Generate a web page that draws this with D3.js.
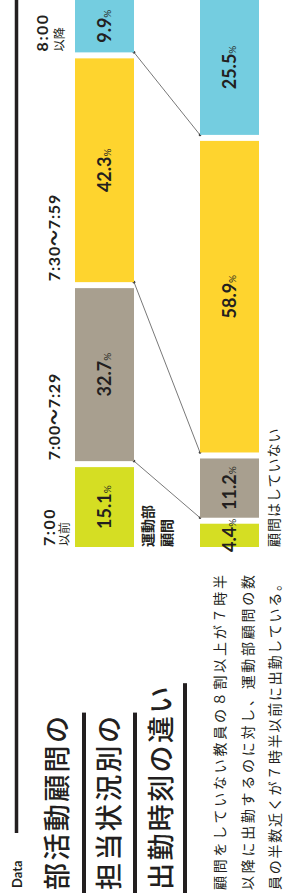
<!DOCTYPE html>
<html>
<head>
<meta charset="utf-8">
<script src="https://cdn.jsdelivr.net/npm/d3@7"></script>
<style>
  html, body { margin: 0; padding: 0; background: #fff; }
  svg { display: block; }
  text { font-family: Lato, "Noto Sans CJK JP", sans-serif; fill: #231f20; }
</style>
</head>
<body>
<svg id="chart" width="306" height="893"></svg>
<script>
// data
const groups = ['運動部顧問', '顧問はしていない'];
const groupLabels = [['運動部', '顧問'], ['顧問はしていない']];
const categories = ['7:00以前', '7:00〜7:29', '7:30〜7:59', '8:00以降'];
const tickMain = ['7:00', '7:00〜7:29', '7:30〜7:59', '8:00'];
const tickSub = ['以前', '', '', '以降'];
const advisorValues = [15.1, 32.7, 42.3, 9.9];
const nonAdvisorValues = [4.4, 11.2, 58.9, 25.5];
const titleLines = ['部活動顧問の', '担当状況別の', '出勤時刻の違い'];
const bodyLines = [
  '顧問をしていない教員の８割以上が７時半',
  '以降に出勤するのに対し、運動部顧問の数',
  '員の半数近くが７時半以前に出勤している。'
];

const colors = ['#d5de23', '#a89f8f', '#fed42e', '#74cde0'];

// whole graphic is laid out landscape, then turned a quarter left
const W = 893;
const svg = d3.select('#chart');
const g = svg.append('g').attr('transform', 'translate(0,' + W + ') rotate(-90)');

// header
g.append('text')
  .attr('x', 5).attr('y', 22)
  .style('font-size', '13px').style('font-weight', 700)
  .text('Data');
g.append('line')
  .attr('x1', 60).attr('x2', W)
  .attr('y1', 16.5).attr('y2', 16.5)
  .attr('stroke', '#231f20').attr('stroke-width', 3.5);

// title
const titleY = [67, 119, 171];
const ruleY = [84, 135, 185];
titleLines.forEach((t, i) => {
  const tx = g.append('text')
    .attr('x', 3).attr('y', titleY[i])
    .style('font-size', '27px').style('font-weight', 500)
    .style('letter-spacing', '2.4px')
    .text(t);
  const len = tx.node().getComputedTextLength();
  g.append('line')
    .attr('x1', 0).attr('x2', len + 4)
    .attr('y1', ruleY[i]).attr('y2', ruleY[i])
    .attr('stroke', '#231f20').attr('stroke-width', 4);
});

// body text
const bodyY = [225, 253, 280];
const bodyLen = [315, 315, 313];
bodyLines.forEach((t, i) => {
  g.append('text')
    .attr('x', 3).attr('y', bodyY[i])
    .attr('textLength', bodyLen[i]).attr('lengthAdjust', 'spacing')
    .style('font-size', '14px')
    .text(t);
});

// scales
const x = d3.scaleLinear().domain([0, 100]).range([346, 875]);
const gap = 6;
const y = d3.scaleBand().domain(groups).range([75, 259]).paddingInner(0.528);

const rows = groups.map((grp, gi) => {
  const vals = gi === 0 ? advisorValues : nonAdvisorValues;
  let cum = 0;
  return vals.map((v, i) => {
    const s = cum;
    cum += v;
    return { group: grp, cat: categories[i], v: v, i: i,
             x0: x(s) + i * gap, x1: x(cum) + i * gap };
  });
});

// connectors between the two bars
const conn = g.append('g');
for (let i = 1; i < categories.length; i++) {
  const a = rows[0][i], b = rows[1][i];
  const ya = y(groups[0]) + y.bandwidth(), yb = y(groups[1]);
  conn.append('line')
    .attr('x1', a.x0).attr('y1', ya).attr('x2', b.x0).attr('y2', yb)
    .attr('stroke', '#555').attr('stroke-width', 0.8);
  conn.selectAll(null).data([[a.x0, ya], [b.x0, yb]]).enter()
    .append('circle')
    .attr('cx', d => d[0]).attr('cy', d => d[1]).attr('r', 1.3)
    .attr('fill', '#444');
}

// bars
const barG = g.selectAll('.bar').data(rows).enter()
  .append('g').attr('class', 'bar');

barG.selectAll('rect').data(d => d).enter()
  .append('rect')
  .attr('x', d => d.x0)
  .attr('y', d => y(d.group))
  .attr('width', d => d.x1 - d.x0)
  .attr('height', y.bandwidth())
  .attr('fill', d => colors[d.i]);

const lbl = barG.selectAll('text').data(d => d).enter()
  .append('text')
  .attr('x', d => (d.x0 + d.x1) / 2)
  .attr('y', d => y(d.group) + y.bandwidth() / 2 + 6.5)
  .attr('text-anchor', 'middle')
  .style('font-size', '18px').style('font-weight', 700);
lbl.append('tspan').text(d => d.v.toFixed(1));
lbl.append('tspan').style('font-size', '10px').style('font-weight', 400).text('%');

// time labels above the first bar
const tickG = g.append('g');
rows[0].forEach((d, i) => {
  const two = tickSub[i] !== '';
  tickG.append('text')
    .attr('x', d.x0 + 1)
    .attr('y', two ? (i === 3 ? 48 : 55) : 60)
    .style('font-size', '16px').style('font-weight', 700)
    .style('letter-spacing', two ? '1.5px' : '0.8px')
    .text(tickMain[i]);
  if (two) {
    tickG.append('text')
      .attr('x', d.x0 + 1)
      .attr('y', i === 3 ? 64 : 69)
      .style('font-size', '12px')
      .text(tickSub[i]);
  }
});

// group labels under each bar
g.append('text')
  .attr('x', x(0)).attr('y', y(groups[0]) + y.bandwidth() + 19)
  .style('font-size', '14px').style('font-weight', 700)
  .text(groupLabels[0][0]);
g.append('text')
  .attr('x', x(0)).attr('y', y(groups[0]) + y.bandwidth() + 38)
  .style('font-size', '14px').style('font-weight', 700)
  .text(groupLabels[0][1]);
g.append('text')
  .attr('x', x(0)).attr('y', y(groups[1]) + y.bandwidth() + 20)
  .style('font-size', '14px').style('letter-spacing', '1px')
  .text(groupLabels[1][0]);
</script>
</body>
</html>
